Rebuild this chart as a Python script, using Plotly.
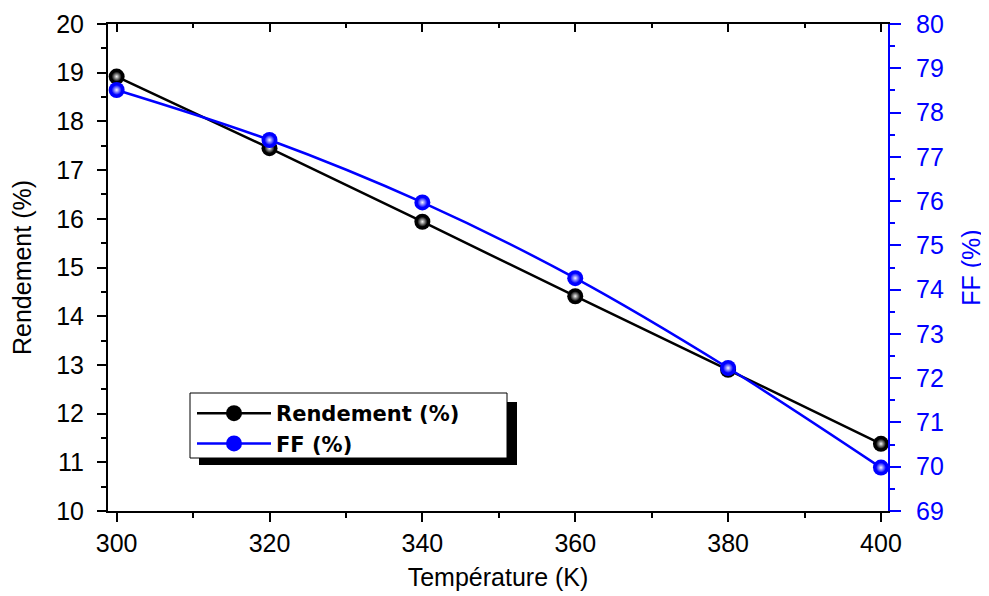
import plotly.graph_objects as go

temperature = [300, 320, 340, 360, 380, 400]
rendement = [18.92, 17.45, 15.94, 14.41, 12.90, 11.38]
ff = [78.51, 77.38, 75.97, 74.26, 72.23, 69.98]

x_ticks = [300, 320, 340, 360, 380, 400]
y1_ticks = list(range(10, 21))
y2_ticks = list(range(69, 81))

FONT = "Liberation Sans, Arial, sans-serif"
LEGEND_FONT = "DejaVu Sans, Liberation Sans, sans-serif"
BLUE = "#0000ff"

# The page body adds an 8px offset; the figure is sized/margined so that the
# plot area lands at these screenshot pixels.
OFF = 8
L, R, T, B = 108, 888, 24, 511
FIG_W, FIG_H = 989, 596
W, H = R - L, B - T


def px_x(p):
    return (p - L) / W


def px_y(p):
    return (B - p) / H


fig = go.Figure()
fig.add_trace(go.Scatter(
    x=temperature, y=rendement, name="Rendement (%)",
    mode="lines+markers",
    line=dict(color="black", width=2.5),
    marker=dict(size=16, color="black", line=dict(width=0)),
    cliponaxis=False,
))
fig.add_trace(go.Scatter(
    x=temperature, y=ff, name="FF (%)", yaxis="y2",
    mode="lines+markers",
    line=dict(color=BLUE, width=2.5, shape="spline"),
    marker=dict(size=16, color=BLUE, line=dict(width=0)),
    cliponaxis=False,
))
# highlights (sphere look): radial gradient, white centre -> series colour edge
fig.add_trace(go.Scatter(
    x=temperature, y=rendement, mode="markers", showlegend=False, hoverinfo="skip",
    marker=dict(size=10, color="black", gradient=dict(type="radial", color="#f5f5f5"),
                line=dict(width=0)), cliponaxis=False))
fig.add_trace(go.Scatter(
    x=temperature, y=ff, yaxis="y2", mode="markers", showlegend=False, hoverinfo="skip",
    marker=dict(size=10, color=BLUE, gradient=dict(type="radial", color="#f5f5ff"),
                line=dict(width=0)), cliponaxis=False))
# invisible trace to activate the top (mirror) axis
fig.add_trace(go.Scatter(x=[300], y=[10], xaxis="x2", mode="markers",
                         marker=dict(opacity=0), showlegend=False, hoverinfo="skip"))

xr = [298.87, 400.92]
TICKFONT = 25
fig.update_layout(
    width=FIG_W, height=FIG_H,
    margin=dict(l=L - OFF, r=FIG_W - R + OFF, t=T - OFF, b=FIG_H - B + OFF),
    paper_bgcolor="white", plot_bgcolor="white",
    font=dict(family=FONT, size=TICKFONT, color="black"),
    showlegend=True,
    xaxis=dict(
        range=xr, tickvals=x_ticks, ticks="outside", ticklen=9, tickwidth=2,
        tickcolor="black", showline=True, linecolor="black", linewidth=2,
        showgrid=False, zeroline=False, ticklabelstandoff=0, automargin=False,
        minor=dict(dtick=10, tick0=300, ticks="outside", ticklen=5, tickwidth=2, tickcolor="black"),
        title=dict(text="Température (K)", font=dict(size=25), standoff=12),
        tickfont=dict(size=TICKFONT),
    ),
    xaxis2=dict(
        overlaying="x", side="top", range=xr, tickvals=x_ticks, ticks="inside",
        ticklen=8, tickwidth=2, tickcolor="black", showticklabels=False,
        showline=True, linecolor="black", linewidth=2, showgrid=False, zeroline=False,
        automargin=False,
        minor=dict(dtick=10, tick0=300, ticks="inside", ticklen=4, tickwidth=2, tickcolor="black"),
    ),
    yaxis=dict(
        range=[10, 20], tickvals=y1_ticks, ticks="outside", ticklen=9, tickwidth=2,
        tickcolor="black", showline=True, linecolor="black", linewidth=2,
        showgrid=False, zeroline=False, ticklabelstandoff=8, automargin=False,
        minor=dict(dtick=0.5, tick0=10, ticks="outside", ticklen=5, tickwidth=2, tickcolor="black"),
        title=dict(text="Rendement (%)", font=dict(size=25), standoff=18),
        tickfont=dict(size=TICKFONT),
    ),
    yaxis2=dict(
        overlaying="y", side="right", range=[69, 80], tickvals=y2_ticks,
        ticks="outside", ticklen=11, tickwidth=2, tickcolor=BLUE,
        showline=True, linecolor=BLUE, linewidth=2, automargin=False,
        showgrid=False, zeroline=False, ticklabelstandoff=10,
        minor=dict(dtick=0.5, tick0=69, ticks="outside", ticklen=5, tickwidth=2, tickcolor=BLUE),
        title=dict(text="FF (%)", font=dict(size=25, color=BLUE), standoff=20),
        tickfont=dict(size=TICKFONT, color=BLUE),
    ),
    legend=dict(
        x=px_x(192), y=px_y(393), xanchor="left", yanchor="top",
        bgcolor="rgba(0,0,0,0)", borderwidth=0,
        font=dict(size=21, family=LEGEND_FONT, weight="bold"),
        itemwidth=74, tracegroupgap=0,
    ),
    shapes=[
        # legend shadow
        dict(type="rect", xref="paper", yref="paper",
             x0=px_x(199), x1=px_x(517), y0=px_y(465), y1=px_y(402),
             fillcolor="black", line=dict(width=0), layer="above"),
        # legend frame
        dict(type="rect", xref="paper", yref="paper",
             x0=px_x(190), x1=px_x(507), y0=px_y(458), y1=px_y(393),
             fillcolor="white", line=dict(color="black", width=1), layer="above"),
    ],
)

fig.write_html("out.html")
